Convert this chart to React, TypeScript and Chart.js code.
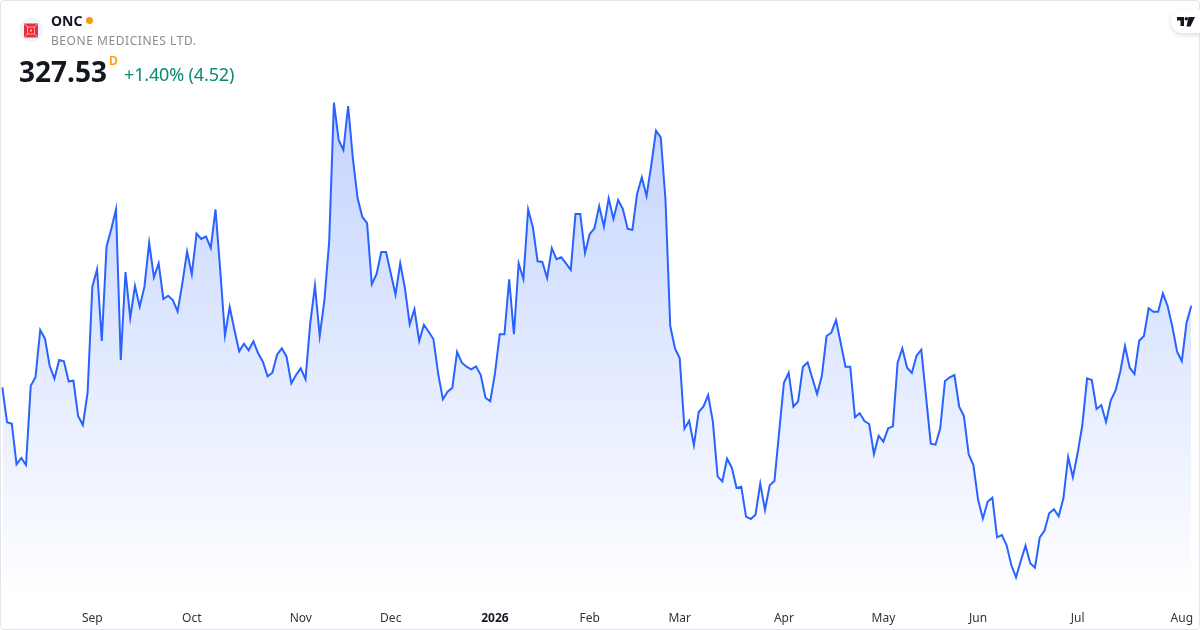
import React, { useEffect, useRef } from "react";
import { Chart, registerables } from "chart.js";

Chart.register(...registerables);

const closes: number[] = [
  305.83, 296.52, 296.15, 285.35, 287.02, 285.16, 306.25, 308.49, 321.07, 318.76,
  311.49, 308.12, 313.09, 312.74, 307.42, 307.58, 298.19, 295.80, 304.39, 332.59,
  337.22, 318.14, 343.23, 347.94, 353.18, 313.09, 336.50, 324.26, 332.77, 327.27,
  332.59, 344.29, 335.09, 338.81, 329.32, 330.19, 329.05, 326.04, 333.49, 341.90,
  335.89, 346.69, 345.28, 345.99, 342.88, 353.18, 337.03, 319.66, 327.19, 321.07,
  315.40, 317.43, 315.67, 318.06, 314.87, 312.64, 308.75, 309.71, 314.50, 316.20,
  313.97, 306.89, 309.10, 310.88, 307.96, 322.85, 332.85, 319.47, 329.05, 344.56,
  381.53, 371.61, 368.95, 380.65, 366.74, 356.10, 351.13, 349.53, 333.23, 335.89,
  341.82, 341.82, 336.15, 330.46, 338.81, 332.16, 322.59, 326.58, 318.14, 322.48,
  320.62, 318.68, 309.55, 302.64, 304.66, 305.72, 315.22, 312.37, 311.31, 310.62,
  311.41, 309.10, 303.06, 302.10, 309.55, 319.93, 319.93, 334.56, 319.93, 338.81,
  334.64, 353.18, 348.39, 339.34, 339.16, 334.90, 342.88, 339.88, 340.41, 338.81,
  337.03, 351.93, 351.93, 341.55, 346.61, 348.12, 354.05, 348.55, 356.10, 350.68,
  355.65, 353.26, 348.02, 347.67, 357.25, 361.69, 356.71, 364.96, 374.08, 372.33,
  355.65, 322.13, 316.20, 313.54, 294.82, 296.94, 290.40, 299.26, 300.67, 303.78,
  296.68, 282.15, 280.82, 286.84, 284.44, 279.04, 279.39, 271.41, 270.80, 271.94,
  280.19, 273.19, 279.76, 280.90, 294.02, 307.05, 309.71, 300.67, 302.10, 311.23,
  312.48, 308.22, 304.05, 308.83, 319.47, 320.35, 323.73, 317.53, 311.31, 311.31,
  297.85, 298.91, 296.86, 296.07, 288.09, 292.95, 291.36, 294.92, 295.45, 312.37,
  316.20, 311.04, 309.63, 314.23, 315.83, 303.33, 290.83, 290.56, 294.92, 307.50,
  308.49, 309.10, 300.67, 298.19, 288.01, 285.16, 275.85, 270.88, 275.40, 276.46,
  265.93, 266.54, 263.88, 258.56, 255.29, 259.62, 263.69, 259.01, 257.84, 265.93,
  267.68, 272.31, 273.38, 271.51, 276.30, 287.29, 281.89, 288.27, 295.80, 308.22,
  307.77, 300.06, 301.04, 296.60, 302.37, 304.92, 309.98, 316.81, 311.04, 309.37,
  318.22, 319.47, 326.84, 325.94, 325.94, 330.83, 327.45, 321.95, 315.30, 312.82,
  323.01, 327.53,
];

const monthLabels: string[] = ["Sep", "Oct", "Nov", "Dec", "2026", "Feb", "Mar", "Apr", "May", "Jun", "Jul", "Aug"];
const monthStarts: number[] = [19, 40, 63, 82, 104, 124, 143, 165, 186, 206, 227, 249];

const categories: string[] = closes.map((_, i) => {
  const m = monthStarts.indexOf(i);
  return m >= 0 ? monthLabels[m] : "";
});

const FONT = '"Noto Sans", "Open Sans", sans-serif';

export default function App() {
  const ref = useRef<HTMLCanvasElement | null>(null);

  useEffect(() => {
    document.body.style.margin = "0";
    document.body.style.background = "#fff";
    const chart = new Chart(ref.current as HTMLCanvasElement, {
      type: "line",
      data: {
        labels: categories,
        datasets: [
          {
            data: closes,
            borderColor: "#2962ff",
            borderWidth: 2,
            pointRadius: 0,
            tension: 0,
            fill: "start",
            backgroundColor: (ctx: any) => {
              const g = ctx.chart.ctx.createLinearGradient(0, 100, 0, 600);
              g.addColorStop(0, "rgba(41,98,255,0.28)");
              g.addColorStop(1, "rgba(41,98,255,0)");
              return g;
            },
          },
        ],
      },
      options: {
        animation: false,
        responsive: false,
        layout: { padding: { left: 2.33, right: 8.7, top: 0, bottom: 0 } },
        plugins: { legend: { display: false }, tooltip: { enabled: false } },
        scales: {
          x: {
            type: "category",
            offset: false,
            afterFit: (s: any) => {
              s.height = 30;
              s.paddingLeft = 0;
              s.paddingRight = 0;
            },
            grid: { display: false, drawTicks: false },
            border: { display: false },
            ticks: {
              autoSkip: false,
              maxRotation: 0,
              minRotation: 0,
              padding: 11,
              color: (c: any) => (c.tick && c.tick.label === "2026" ? "#131722" : "#333333"),
              font: (c: any) =>
                c.tick && c.tick.label === "2026"
                  ? { family: FONT, size: 12, weight: "bold" }
                  : { family: FONT, size: 12 },
            },
          },
          y: {
            display: false,
            min: 249.25,
            max: 408.85,
          },
        },
      },
    } as any);
    return () => chart.destroy();
  }, []);

  return (
    <div style={{ position: "relative", width: 1200, height: 630, overflow: "hidden", fontFamily: FONT, background: "#fff" }}>
      <canvas ref={ref} width={1200} height={630} style={{ position: "absolute", left: 0, top: 0, display: "block" }} />
      <div
        style={{
          position: "absolute",
          inset: 0,
          boxSizing: "border-box",
          border: "1px solid #e3e5e8",
          borderRadius: 4,
          pointerEvents: "none",
        }}
      />
      <svg width={26} height={26} viewBox="0 0 26 26" style={{ position: "absolute", left: 18, top: 17 }}>
        <circle cx={13} cy={13} r={12} fill="#f0f3fa" />
        <rect x={6} y={6.5} width={14} height={14} fill="#ee2b3b" />
        <rect x={9.5} y={10} width={7} height={7} fill="none" stroke="#ffb3b8" strokeWidth={0.8} />
        <rect x={12} y={12.5} width={2} height={2} fill="#ffb3b8" />
        <path d="M6 6.5L10 10.5M20 6.5L16 10.5M6 20.5L10 16.5M20 20.5L16 16.5" stroke="#ffc9cc" strokeWidth={0.8} />
      </svg>
      <div style={{ position: "absolute", left: 51, top: 11, fontSize: 14, lineHeight: "19px", fontWeight: 700, color: "#131722" }}>ONC</div>
      <div style={{ position: "absolute", left: 86, top: 17, width: 7, height: 7, borderRadius: 4, background: "#ff9800" }} />
      <div style={{ position: "absolute", left: 51, top: 32, fontSize: 12, lineHeight: "17px", letterSpacing: 0.55, color: "#8c8c8c" }}>
        BEONE MEDICINES LTD.
      </div>
      <div style={{ position: "absolute", left: 19, top: 52, fontSize: 28, lineHeight: "38px", fontWeight: 700, color: "#131722" }}>327.53</div>
      <div style={{ position: "absolute", left: 109, top: 53, fontSize: 12, lineHeight: "15px", fontWeight: 600, color: "#ff9800" }}>D</div>
      <div style={{ position: "absolute", left: 124, top: 62, fontSize: 18, lineHeight: "25px", letterSpacing: -0.15, color: "#0b8a72" }}>+1.40% (4.52)</div>
      <div
        style={{
          position: "absolute",
          left: 1171,
          top: 10,
          width: 29,
          height: 23,
          background: "#fff",
          borderRadius: "12px 0 0 12px",
          boxShadow: "0 2px 5px rgba(0,0,0,0.14)",
        }}
      >
        <svg width={18} height={10} viewBox="0 0 18 10" style={{ position: "absolute", left: 6, top: 6.5 }}>
          <path d="M0 0H7V9H3.5V3.5H0Z M11.5 0H18L13.5 9.5H9.5Z" fill="#131722" />
          <circle cx={9.3} cy={1.7} r={1.7} fill="#131722" />
        </svg>
      </div>
    </div>
  );
}
